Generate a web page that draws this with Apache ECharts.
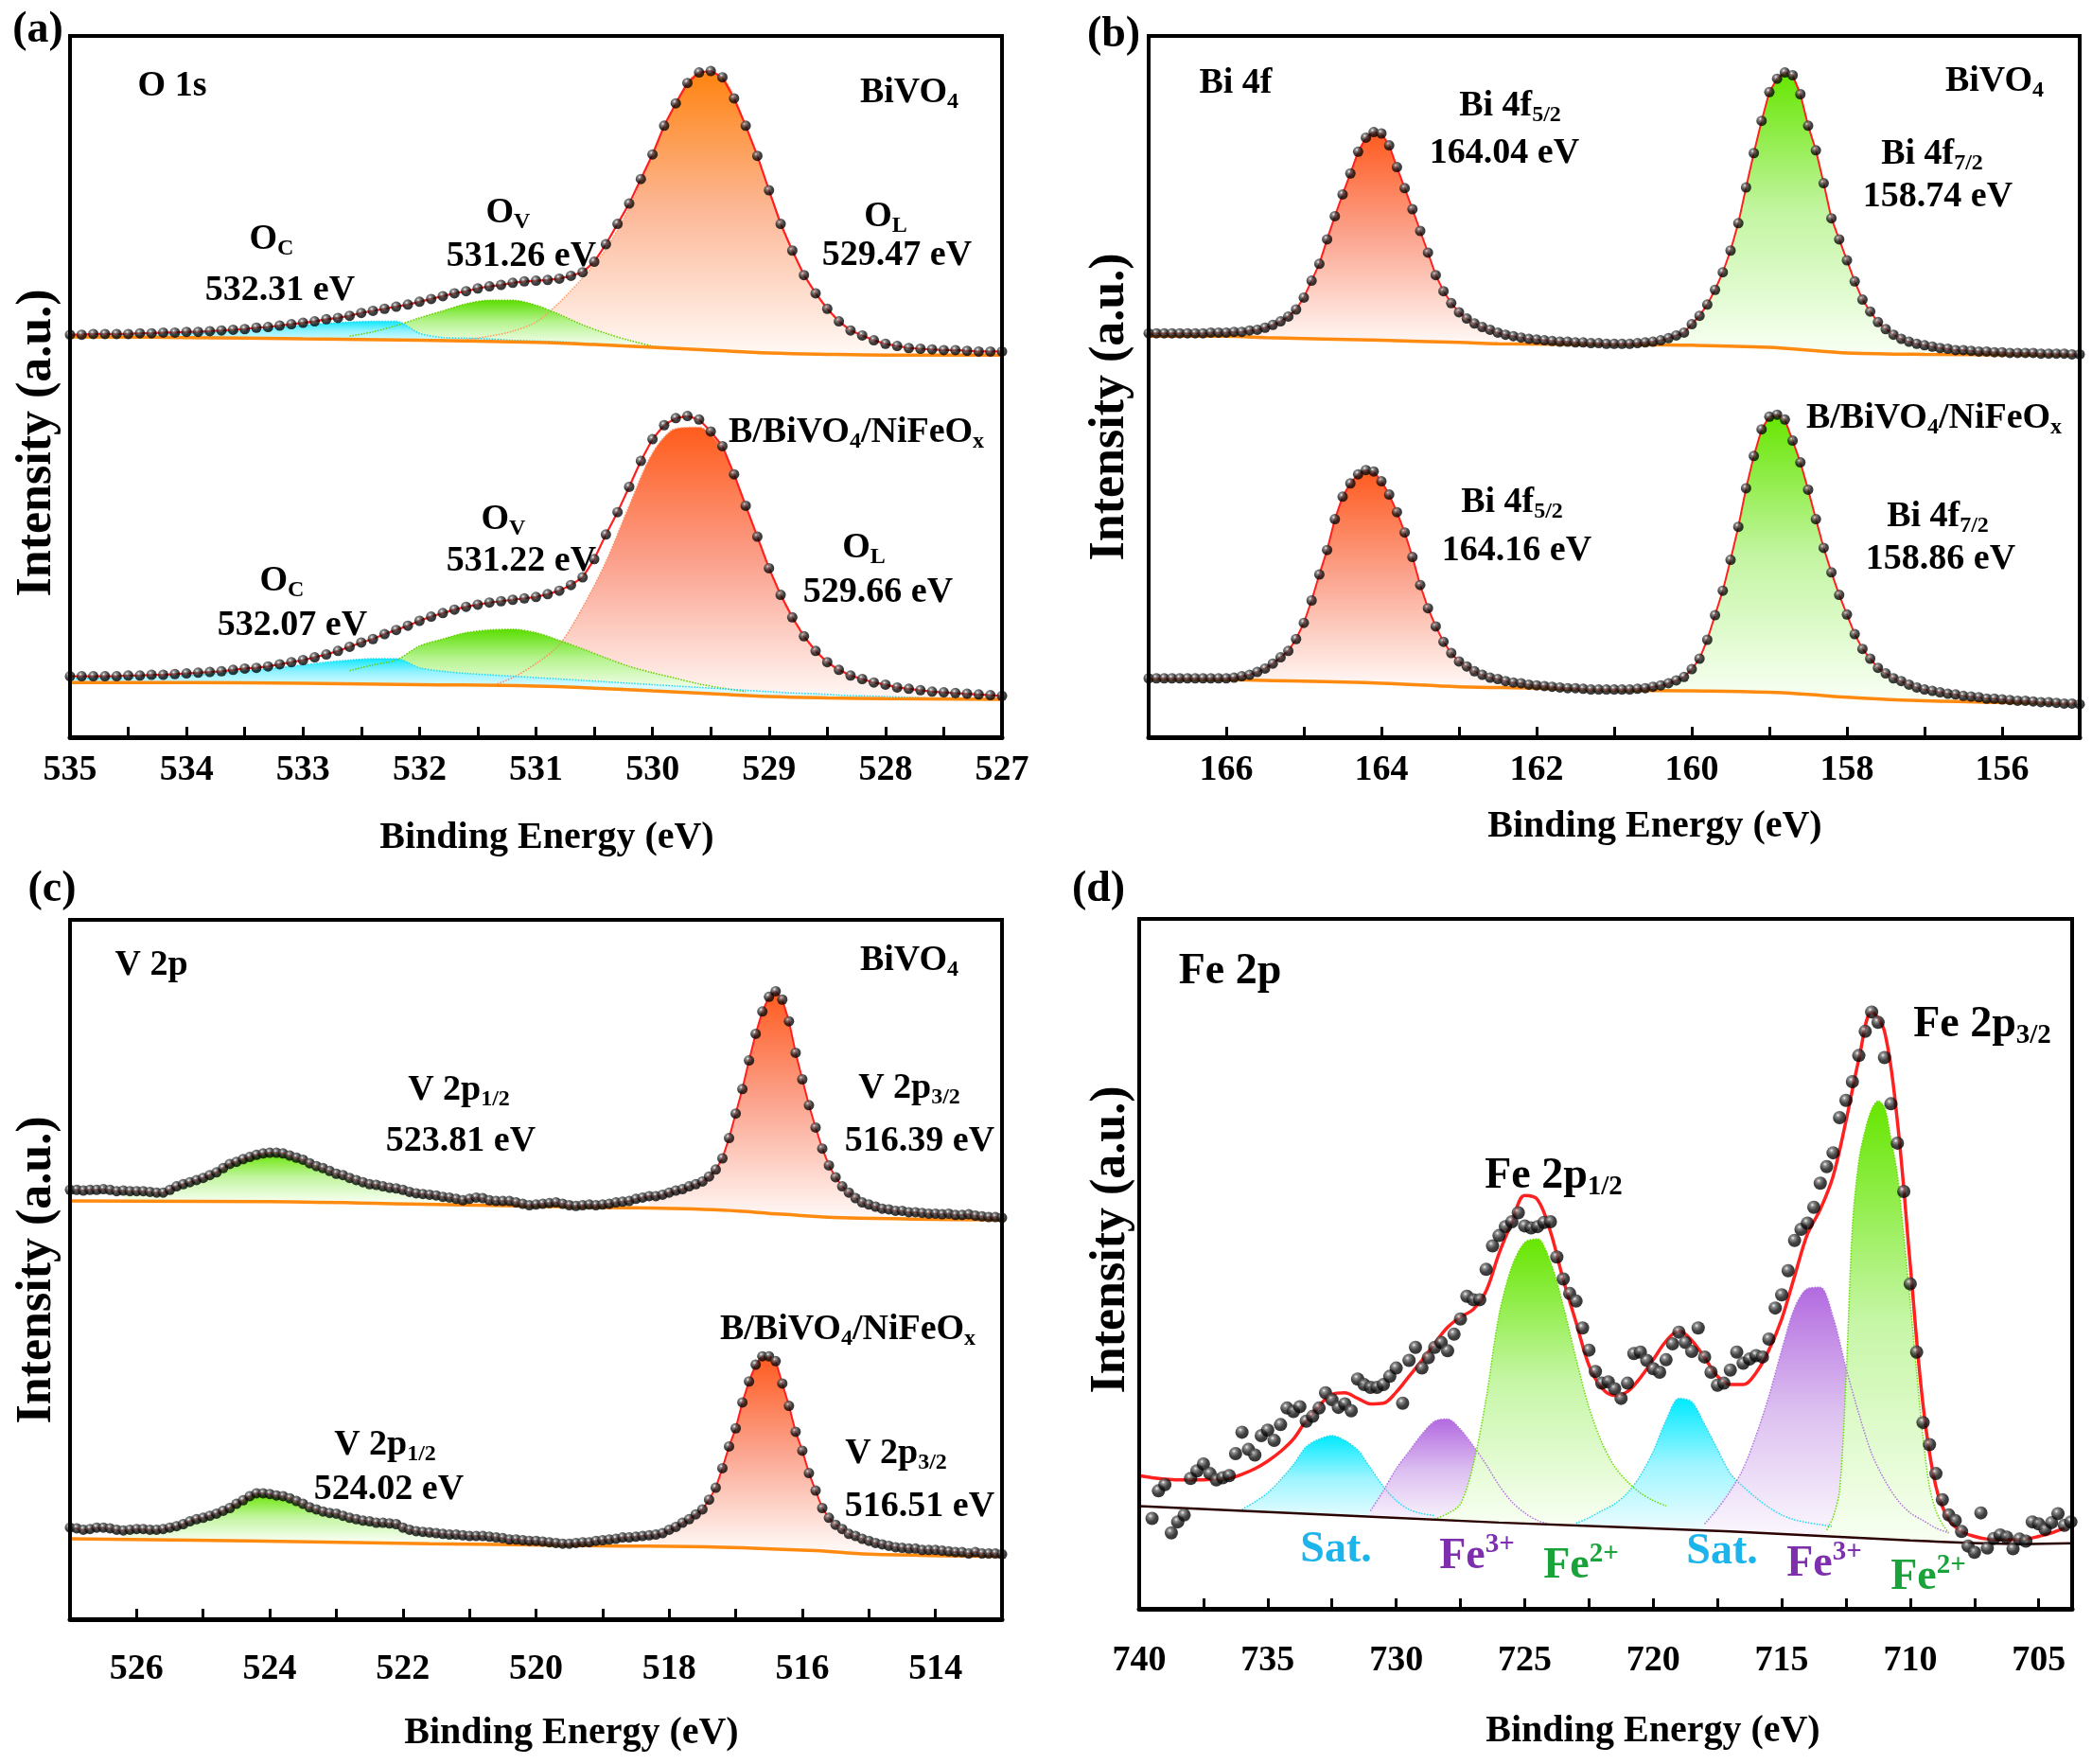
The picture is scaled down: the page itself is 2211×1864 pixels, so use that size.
<!DOCTYPE html>
<html lang="en">
<head>
<meta charset="UTF-8">
<title>XPS spectra</title>
<script src="https://cdn.jsdelivr.net/npm/echarts@6/dist/echarts.min.js"></script>
<style>
  html, body { margin: 0; padding: 0; background: #fff; }
  #chart { width: 2211px; height: 1864px; }
</style>
</head>
<body>
<div id="chart"></div>
<script>
// ---------- data (intensity in arbitrary units, 0-100 per panel) ----------

// (a) O 1s, sampled every 0.1 eV from 535.0 down to 527.0
var O1S_TOP = [57.4,57.4,57.5,57.5,57.5,57.5,57.6,57.6,57.7,57.7,
  57.8,57.8,57.9,58.0,58.1,58.2,58.4,58.5,58.7,58.9,
  59.1,59.3,59.6,59.8,60.1,60.5,60.8,61.1,61.4,61.7,
  62.1,62.5,62.9,63.3,63.6,64.0,64.3,64.5,64.8,65.0,
  65.1,65.2,65.4,65.8,66.3,67.8,70.3,73.2,76.1,79.6,
  83.1,87.2,90.4,93.3,94.8,95.0,94.1,91.1,87.2,82.9,
  78.0,73.2,69.4,65.9,63.3,61.1,59.3,58.0,57.3,56.6,
  56.1,55.8,55.5,55.4,55.3,55.2,55.2,55.1,55.0,55.0,55.0];
var O1S_BOT = [8.7,8.7,8.7,8.7,8.7,8.8,8.8,8.9,8.9,9.0,
  9.1,9.2,9.3,9.4,9.6,9.8,9.9,10.1,10.4,10.7,
  11.0,11.4,11.8,12.3,12.9,13.5,14.0,14.7,15.3,15.9,
  16.6,17.2,17.7,18.2,18.6,18.9,19.2,19.4,19.6,19.8,
  20.0,20.4,20.9,21.7,22.8,25.4,28.9,32.1,35.7,39.4,
  42.5,44.5,45.5,45.8,45.3,43.6,41.5,37.5,33.0,28.6,
  24.1,20.3,17.1,14.4,12.3,10.7,9.6,8.8,8.3,7.8,
  7.5,7.1,6.9,6.7,6.5,6.4,6.3,6.2,6.1,6.0,5.9];
var O1S_TOP_BG = [[535,57.1],[534,57.0],[533,56.8],[532,56.6],[531,56.3],[530.5,56.0],[530,55.6],[529.5,55.2],[529,54.8],[528.5,54.6],[528,54.5],[527,54.5]];
var O1S_BOT_BG = [[535,7.8],[534,7.8],[533,7.7],[532,7.5],[531,7.3],[530.5,7.0],[530,6.6],[529.5,6.2],[529,5.8],[528.5,5.6],[528,5.5],[527,5.4]];
// fitted components, every 0.2 eV from the given start energy
var O1S_TOP_OL = [56.6,56.6,56.7,57.2,57.9,59.2,62.0,65.5,69.6,75.5,83.0,90.2,94.7,94.1,87.2,78.0,69.4,63.3,59.3,57.3,56.1,55.5,55.3,55.2,55.0,55.0]; // from 532.0
var O1S_TOP_OV = [57.2,57.8,58.7,59.8,60.8,61.8,62.3,62.3,61.6,60.3,58.8,57.6,56.6,55.8,55.3]; // from 532.6
var O1S_TOP_OC = [57.2,57.2,57.3,57.4,57.5,57.6,57.7,57.9,58.1,58.4,58.7,59.0,59.2,59.3,59.3,57.6,57.0,56.9,56.8,56.6,56.5,56.4,56.2,56.0,55.8,55.6]; // from 535.0
var O1S_BOT_OL = [7.2,8.5,10.5,13.2,18.5,25.0,33.0,40.5,44.0,44.2,41.0,32.8,23.8,16.9,12.2,9.5,8.2,7.4,6.9,6.5,6.3,6.1,5.9]; // from 531.4
var O1S_BOT_OV = [9.5,10.3,11.0,13.0,14.0,14.9,15.3,15.4,14.9,13.8,12.6,11.3,10.1,9.2,8.4,7.6,7.0,6.5]; // from 532.6
var O1S_BOT_OC = [8.3,8.4,8.4,8.5,8.6,8.8,9.0,9.3,9.6,9.9,10.3,10.7,11.0,11.2,11.2,9.9,9.4,9.1,8.9,8.7,8.5,8.3,8.1,7.9,7.7,7.5,7.3,7.1,6.9,6.7,6.5,6.3,6.2,6.0,5.9,5.8,5.7,5.6,5.6,5.5,5.5]; // from 535.0

// (b) Bi 4f, every 0.1 eV from 167.0 down to 155.0
var BI_TOP = [57.6,57.6,57.6,57.6,57.6,57.6,57.6,57.6,57.7,57.7,
  57.7,57.8,57.8,58.0,58.1,58.4,58.8,59.3,60.0,61.0,
  62.7,65.1,67.5,71.0,74.3,77.4,80.4,83.5,85.5,86.3,
  86.1,84.4,81.3,78.3,75.3,72.2,69.1,65.9,63.6,61.9,
  60.6,59.7,59.0,58.5,58.1,57.7,57.4,57.2,57.0,56.8,
  56.7,56.6,56.5,56.4,56.4,56.3,56.3,56.2,56.2,56.1,
  56.1,56.1,56.1,56.2,56.3,56.4,56.6,56.9,57.3,57.7,
  58.9,60.1,61.7,63.8,66.3,69.4,73.3,78.4,83.3,87.9,
  92.0,93.9,94.8,94.4,91.7,87.2,83.7,79.0,74.0,71.0,
  68.0,65.0,62.4,60.7,59.2,58.2,57.4,56.8,56.4,56.1,
  55.9,55.7,55.5,55.4,55.2,55.2,55.1,55.0,55.0,54.9,
  54.9,54.8,54.8,54.8,54.8,54.7,54.7,54.7,54.7,54.6,54.6];
var BI_BOT = [8.4,8.4,8.4,8.4,8.4,8.4,8.4,8.4,8.4,8.4,
  8.4,8.5,8.7,8.9,9.3,9.8,10.5,11.4,12.3,14.0,
  16.3,19.5,23.2,26.7,31.1,34.3,36.2,37.5,38.1,37.9,
  36.5,34.6,32.1,29.2,25.7,21.7,18.4,15.8,13.6,12.0,
  10.8,10.1,9.4,8.9,8.5,8.3,8.0,7.8,7.7,7.5,
  7.4,7.3,7.2,7.1,7.0,7.0,6.9,6.8,6.8,6.8,
  6.8,6.8,6.8,6.9,7.0,7.2,7.4,7.7,8.1,8.6,
  9.7,11.2,13.9,17.4,20.9,25.3,30.0,35.5,40.1,43.9,
  45.7,46.0,45.3,42.3,39.2,35.3,31.1,27.0,23.5,20.3,
  17.5,14.7,12.6,11.2,9.9,9.1,8.4,8.0,7.5,7.1,
  6.8,6.6,6.4,6.2,6.1,5.9,5.8,5.7,5.5,5.5,
  5.4,5.3,5.2,5.2,5.1,5.0,5.0,4.9,4.8,4.8,4.7];
var BI_TOP_BG = [[167,57.2],[166,57.2],[165.5,57.0],[164,56.6],[163,56.3],[162.5,56.1],[161,56.0],[160,55.9],[159,55.6],[158.5,55.2],[158,54.8],[157,54.6],[155,54.5]];
var BI_BOT_BG = [[167,8.3],[166,8.2],[165.5,8.1],[164,7.7],[163,7.2],[162,7.0],[161,6.7],[160,6.6],[159,6.4],[158.5,6.1],[158,5.7],[157,5.2],[155,4.8]];

// (c) V 2p, every 0.1 eV from 527.0 down to 513.0
var V_TOP = [61.4,61.4,61.3,61.4,61.4,61.5,61.4,61.2,61.3,61.2,
  61.2,61.2,61.1,61.0,61.0,61.4,61.9,62.2,62.5,62.8,
  63.1,63.5,63.9,64.5,65.1,65.4,65.8,66.1,66.4,66.6,
  66.7,66.7,66.6,66.3,66.0,65.7,65.2,64.8,64.5,64.1,
  63.7,63.5,63.1,62.8,62.5,62.2,62.1,61.9,61.7,61.6,
  61.4,61.1,60.9,60.8,60.7,60.6,60.4,60.3,60.1,59.9,
  60.1,60.3,60.2,59.9,59.8,59.8,59.8,59.6,59.4,59.2,
  59.3,59.4,59.5,59.6,59.4,59.2,59.1,59.2,59.3,59.2,
  59.3,59.4,59.6,59.7,59.8,60.1,60.3,60.5,60.5,60.7,
  61.0,61.3,61.5,61.9,62.2,62.6,63.3,64.3,65.9,68.8,
  72.3,75.8,79.9,83.7,86.9,89.0,89.8,88.6,85.5,81.0,
  77.2,73.5,70.3,67.3,64.9,63.2,61.9,61.0,60.2,59.6,
  59.3,59.0,58.7,58.6,58.4,58.4,58.2,58.2,58.1,58.0,
  58.0,57.9,58.0,57.8,57.8,57.9,57.7,57.6,57.5,57.5,57.4];
var V_BOT = [13.1,13.0,12.8,12.9,13.1,13.1,13.0,12.8,12.7,12.8,
  12.9,12.9,12.8,12.8,12.9,13.1,13.3,13.6,14.0,14.3,
  14.5,14.8,15.1,15.5,15.9,16.5,17.0,17.6,18.0,18.0,
  17.9,17.7,17.6,17.3,16.9,16.5,16.0,15.7,15.4,15.2,
  15.1,14.8,14.5,14.3,14.1,14.0,13.8,13.8,13.7,13.6,
  13.1,12.8,12.6,12.5,12.4,12.3,12.2,12.1,12.1,12.0,
  11.9,11.9,11.9,11.8,11.7,11.6,11.4,11.4,11.3,11.2,
  11.2,11.1,11.0,10.9,10.8,10.8,10.9,11.0,11.0,11.2,
  11.3,11.4,11.5,11.7,11.7,11.8,11.9,12.0,12.1,12.3,
  12.8,13.2,13.8,14.3,15.0,15.7,17.1,18.8,21.6,24.7,
  27.3,31.0,34.0,36.4,37.6,37.6,36.9,33.7,30.5,26.8,
  24.1,20.9,18.4,15.9,14.5,13.5,12.9,12.2,11.9,11.5,
  11.2,10.9,10.7,10.5,10.3,10.2,10.1,10.1,9.9,9.9,
  9.9,9.8,9.7,9.6,9.6,9.4,9.6,9.4,9.4,9.4,9.3];
var V_TOP_BG = [[527,59.8],[524,59.7],[521.5,59.3],[519,58.9],[517.2,58.5],[516.3,57.9],[515.4,57.4],[513,57.1]];
var V_BOT_BG = [[527,11.5],[524.3,11.2],[521.6,10.8],[519,10.5],[517.2,10.3],[515.8,9.8],[515,9.3],[513,9.0]];

// (d) Fe 2p: raw points every 0.25 eV from 739.5, fit every 0.5 eV from 740
var FE_DOTS = [13.1,17.1,18.0,11.0,12.6,13.6,18.9,20.0,21.0,19.6,
  18.7,19.0,19.3,22.5,25.6,23.1,22.3,25.1,25.9,24.4,
  26.7,29.1,28.6,29.3,27.2,27.9,29.1,31.3,30.3,29.2,
  29.7,28.7,33.3,32.5,32.1,32.1,32.5,33.7,34.9,29.8,
  36.0,37.9,34.9,36.4,37.9,38.6,37.4,39.8,42.0,45.3,
  44.8,44.8,49.2,52.6,54.1,55.4,56.1,57.4,55.5,55.2,
  55.4,56.0,56.1,51.0,47.8,45.7,44.6,40.7,37.5,34.4,
  32.7,32.9,31.9,30.5,32.7,37.0,37.2,36.0,34.8,34.3,
  36.1,38.4,40.1,38.6,37.3,40.7,36.5,34.3,32.4,32.7,
  34.6,37.2,35.6,36.2,36.7,36.5,39.1,43.6,45.5,49.0,
  53.4,55.0,55.9,58.2,61.7,64.1,66.1,71.2,73.7,76.4,
  80.2,83.7,86.5,85.0,79.9,73.2,67.5,60.5,47.1,37.2,
  27.0,23.8,19.6,15.8,13.6,12.8,11.2,9.1,8.2,13.9,
  8.8,10.2,10.7,10.4,8.7,10.1,9.8,12.6,12.3,11.5,
  12.5,13.8,12.1,12.6];
var FE_FIT = [19.3,19.0,18.8,18.7,18.7,18.7,18.8,18.9,19.5,20.3,
  21.4,22.8,24.6,27.3,29.4,31.1,31.3,30.5,29.7,29.8,
  31.4,33.7,36.0,38.5,40.8,42.3,43.4,46.1,51.5,56.0,
  59.9,59.3,54.7,47.7,41.5,35.3,32.0,30.9,31.5,33.5,
  36.1,38.8,40.3,38.9,36.4,33.7,32.5,32.5,34.2,37.5,
  42.0,48.2,54.3,57.9,62.7,70.7,79.6,86.5,83.7,70.7,
  49.9,29.5,17.7,12.9,11.2,10.5,10.1,10.0,10.0,10.1,
  10.5,11.0,11.7];
var FE_BG = [[740,14.9],[726,12.5],[717,11.2],[710,9.9],[705.7,9.4],[703.7,9.5]];
var FE_SAT1 = [14.4,15.5,16.8,18.7,20.9,23.5,24.6,25.1,24.4,23.0,20.4,17.7,15.7,14.4,13.8,13.5]; // from 736, 0.5 eV
var FE_FE3A = [14.2,17.1,20.3,22.8,25.3,27.2,27.5,26.0,23.6,20.9,17.9,15.5,13.9,12.8,12.2]; // from 731
var FE_FE2A = [13.0,13.8,15.2,20.9,30.5,42.6,49.6,53.1,53.6,50.3,43.9,36.2,29.2,24.1,20.6,18.4,16.8,15.7,14.9]; // from 728.5
var FE_SAT2 = [12.4,13.2,14.2,15.2,16.8,19.3,22.8,27.3,30.5,30.0,26.7,23.1,19.6,17.7,16.1,14.7,13.6,12.9,12.5,12.2,11.9]; // from 723
var FE_FE3B = [12.3,14.5,17.1,20.3,25.1,30.8,37.5,43.6,46.4,46.6,42.3,34.9,28.3,22.5,18.7,15.8,13.9,12.8,11.7,11.0]; // from 718
var FE_FE2B = [11.4,13.3,17.1,33.0,55.4,64.9,69.4,72.4,73.6,72.7,68.1,63.0,54.1,44.5,34.3,24.7,17.7,14.2,12.3,11.0]; // from 713.25, 0.25 eV

// ---------- helpers ----------
var FONT = 'Liberation Serif, "Times New Roman", serif';

function onGrid(e0, step, vals) {
  return vals.map(function (v, i) { return [Math.round((e0 + step * i) * 1000) / 1000, v]; });
}
function between(pts, lo, hi) {
  return pts.filter(function (p) { return p[0] >= lo - 1e-6 && p[0] <= hi + 1e-6; });
}

var grids = [], xAxes = [], yAxes = [], series = [];

function addGrid(box, xa, ya) {
  grids.push(box);
  var gi = grids.length - 1;
  xa.gridIndex = gi; ya.gridIndex = gi;
  xAxes.push(xa); yAxes.push(ya);
  return gi;
}

function frame(p) {
  var xa = {
    type: 'value', inverse: true, min: p.min, max: p.max, z: 30,
    axisLine: { show: true, onZero: false, lineStyle: { color: '#000', width: 5 } },
    axisTick: { show: true, inside: true, length: 11, lineStyle: { color: '#000', width: 3 } },
    axisLabel: { show: true, margin: p.margin, color: '#000', fontFamily: FONT, fontWeight: 'bold', fontSize: 38, formatter: p.fmt },
    splitLine: { show: false }
  };
  if (p.interval) xa.interval = p.interval;
  if (p.ticks) { xa.axisTick.customValues = p.ticks; xa.axisLabel.customValues = p.labels; }
  addGrid({ left: p.box.left, top: p.box.top, width: p.box.width, height: p.box.height,
            show: true, borderColor: '#000', borderWidth: 4, z: 30 },
          xa, { type: 'value', show: false, min: 0, max: 100 });
}

function subGrid(p, part) {
  var top = p.box.top, h = p.box.height, ymin = 0, ymax = 100;
  if (part === 'top') { h = h / 2; ymin = 50; }
  if (part === 'bot') { top = top + h / 2; h = h / 2; ymax = 50; }
  var gi = addGrid({ left: p.box.left, top: top, width: p.box.width, height: h },
    { type: 'value', inverse: true, min: p.min, max: p.max, show: false },
    { type: 'value', min: ymin, max: ymax, show: false });
  return { gi: gi, ymin: ymin };
}

function grad(c, ymin, bg) {
  var peak = -1e9, peakE = 0;
  c.data.forEach(function (p) { if (p[1] > peak) { peak = p[1]; peakE = p[0]; } });
  var base = bg.reduce(function (b, p) { return Math.abs(p[0] - peakE) < Math.abs(b[0] - peakE) ? p : b; })[1];
  var end = Math.max(0.05, Math.min(1, (peak - base) / (peak - ymin)));
  return new echarts.graphic.LinearGradient(0, 0, 0, 1, [
    { offset: 0, color: c.top },
    { offset: end * 0.5, color: c.mid },
    { offset: end, color: c.low || '#ffffff' },
    { offset: 1, color: '#ffffff' }
  ]);
}

var BALL = { type: 'radial', x: 0.38, y: 0.32, r: 0.68,
  colorStops: [{ offset: 0, color: '#f2f2f2' }, { offset: 0.22, color: '#707070' },
               { offset: 0.6, color: '#141414' }, { offset: 1, color: '#000' }] };

function spectrum(g, sp) {
  var gi = g.gi;
  sp.comps.forEach(function (c) {
    series.push({ type: 'line', xAxisIndex: gi, yAxisIndex: gi, data: c.data, smooth: 0.3, symbol: 'none', z: 2, silent: true,
      lineStyle: c.edge ? { color: c.edge, width: 1.5, type: 'dotted' } : { opacity: 0 },
      areaStyle: { origin: 'start', opacity: 1, color: grad(c, g.ymin, sp.bg) } });
  });
  // white below the background line hides the component tails
  series.push({ type: 'line', xAxisIndex: gi, yAxisIndex: gi, data: sp.bg, smooth: 0.4, symbol: 'none', z: 3, silent: true,
    lineStyle: { opacity: 0 }, areaStyle: { origin: 'start', color: '#ffffff', opacity: 1 } });
  series.push({ type: 'line', xAxisIndex: gi, yAxisIndex: gi, data: sp.bg, smooth: 0.4, symbol: 'none', z: 4, silent: true,
    lineStyle: { color: sp.bgColor, width: sp.bgWidth } });
  series.push({ type: 'line', xAxisIndex: gi, yAxisIndex: gi, data: sp.fit, smooth: sp.fitSmooth || 0, symbol: 'none', z: 5, silent: true,
    lineStyle: { color: '#ff2020', width: sp.fitWidth } });
  series.push({ type: 'scatter', xAxisIndex: gi, yAxisIndex: gi, data: sp.dots, symbolSize: sp.dot, z: 6, silent: true,
    itemStyle: { color: BALL } });
}

function isInt(v) { return Math.abs(v - Math.round(v)) < 1e-6; }
function evenOnly(v) { return isInt(v) && Math.round(v) % 2 === 0 ? String(Math.round(v)) : ''; }

var PA = { box: { left: 74, top: 38, width: 985, height: 741 }, min: 527, max: 535, interval: 0.5, margin: 16,
  fmt: function (v) { return isInt(v) ? String(Math.round(v)) : ''; } };
var PB = { box: { left: 1214, top: 38, width: 984, height: 741 }, min: 155, max: 167, interval: 1, margin: 16, fmt: evenOnly };
var PC = { box: { left: 74, top: 972, width: 985, height: 739 }, min: 513, max: 527, interval: 1, margin: 34, fmt: evenOnly };
var PD = { box: { left: 1204, top: 971, width: 986, height: 729 }, min: 703.7, max: 740, margin: 36,
  ticks: [705, 707.5, 710, 712.5, 715, 717.5, 720, 722.5, 725, 727.5, 730, 732.5, 735, 737.5, 740],
  labels: [705, 710, 715, 720, 725, 730, 735, 740],
  fmt: function (v) { return String(v); } };

[PA, PB, PC, PD].forEach(frame);

var ORANGE = '#ff8a10';
var CYAN = { top: '#10e8ff', mid: '#8ff2ff', low: '#d6fbff', edge: '#22d8f0' };
var GREEN = { top: '#5ade00', mid: '#b4f38c', low: '#eefde4', edge: '#66cc00' };
var REDOR = { top: '#ff5a1e', mid: '#fba48e', low: '#fff6f3' };
var GRN2 = { top: '#66e600', mid: '#c2f5a0', low: '#f6fff0' };
function comp(data, col) {
  return { data: data, top: col.top, mid: col.mid, low: col.low, edge: col.edge };
}

// (a)
var aTop = onGrid(535, -0.1, O1S_TOP), aBot = onGrid(535, -0.1, O1S_BOT);
spectrum(subGrid(PA, 'top'), { fit: aTop, dots: aTop, bg: O1S_TOP_BG, bgColor: ORANGE, bgWidth: 3.5, fitWidth: 2.2, dot: 11,
  comps: [
    comp(onGrid(532.0, -0.2, O1S_TOP_OL), { top: '#ff8412', mid: '#fcb898', low: '#fff7f2', edge: '#ff9a60' }),
    comp(onGrid(532.6, -0.2, O1S_TOP_OV), GREEN),
    comp(onGrid(535.0, -0.2, O1S_TOP_OC), CYAN)
  ] });
spectrum(subGrid(PA, 'bot'), { fit: aBot, dots: aBot, bg: O1S_BOT_BG, bgColor: ORANGE, bgWidth: 3.5, fitWidth: 2.2, dot: 11,
  comps: [
    comp(onGrid(531.4, -0.2, O1S_BOT_OL), { top: '#ff5c1c', mid: '#fba08c', low: '#fff5f2', edge: '#ff8a60' }),
    comp(onGrid(532.6, -0.2, O1S_BOT_OV), GREEN),
    comp(onGrid(535.0, -0.2, O1S_BOT_OC), CYAN)
  ] });

// (b)
var bTop = onGrid(167, -0.1, BI_TOP), bBot = onGrid(167, -0.1, BI_BOT);
spectrum(subGrid(PB, 'top'), { fit: bTop, dots: bTop, bg: BI_TOP_BG, bgColor: ORANGE, bgWidth: 3.5, fitWidth: 2, dot: 11,
  comps: [comp(between(bTop, 162.3, 166.0), REDOR), comp(between(bTop, 156.6, 160.7), GRN2)] });
spectrum(subGrid(PB, 'bot'), { fit: bBot, dots: bBot, bg: BI_BOT_BG, bgColor: ORANGE, bgWidth: 3.5, fitWidth: 2, dot: 11,
  comps: [comp(between(bBot, 162.3, 166.0), REDOR), comp(between(bBot, 156.6, 160.7), GRN2)] });

// (c)
var cTop = onGrid(527, -0.1, V_TOP), cBot = onGrid(527, -0.1, V_BOT);
spectrum(subGrid(PC, 'top'), { fit: cTop, dots: cTop, bg: V_TOP_BG, bgColor: ORANGE, bgWidth: 3.5, fitWidth: 2, dot: 11,
  comps: [comp(between(cTop, 521.0, 526.2), GRN2), comp(between(cTop, 514.8, 518.3), REDOR)] });
spectrum(subGrid(PC, 'bot'), { fit: cBot, dots: cBot, bg: V_BOT_BG, bgColor: ORANGE, bgWidth: 3.5, fitWidth: 2, dot: 11,
  comps: [comp(between(cBot, 521.2, 526.2), GRN2), comp(between(cBot, 514.9, 518.3), REDOR)] });

// (d)
var FCY = { top: '#00eaff', mid: '#9ff5ff', low: '#eefdff', edge: '#20d8f0' };
var FPU = { top: '#b36ae0', mid: '#dcbff0', low: '#faf5fd', edge: '#b070e0' };
var FGR = { top: '#66e600', mid: '#c6f6a6', low: '#f8fff2', edge: '#66dd00' };
spectrum(subGrid(PD, 'all'), {
  fit: onGrid(740, -0.5, FE_FIT), fitSmooth: 0.35, dots: onGrid(739.5, -0.25, FE_DOTS), bg: FE_BG,
  bgColor: '#2a0000', bgWidth: 2.5, fitWidth: 3.5, dot: 14,
  comps: [
    comp(onGrid(736, -0.5, FE_SAT1), FCY),
    comp(onGrid(731, -0.5, FE_FE3A), FPU),
    comp(onGrid(728.5, -0.5, FE_FE2A), FGR),
    comp(onGrid(723, -0.5, FE_SAT2), FCY),
    comp(onGrid(718, -0.5, FE_FE3B), FPU),
    comp(onGrid(713.25, -0.25, FE_FE2B), FGR)
  ] });

// ---------- text ----------
function rich(size, color) {
  var b = Math.round(size * 0.64);
  return {
    n: { fontFamily: FONT, fontWeight: 'bold', fill: color, fontSize: size, lineHeight: Math.round(size * 1.15) },
    b: { fontFamily: FONT, fontWeight: 'bold', fill: color, fontSize: b, lineHeight: Math.round(size * 0.5), verticalAlign: 'bottom' },
    p: { fontFamily: FONT, fontWeight: 'bold', fill: color, fontSize: b, lineHeight: Math.round(size * 0.5), verticalAlign: 'top' }
  };
}
function txt(x, y, s, size, color, rot) {
  color = color || '#000';
  return { type: 'text', x: x, y: y, rotation: rot || 0, z: 100, silent: true,
    style: { text: s, rich: rich(size, color), align: 'center', verticalAlign: 'middle',
             fontFamily: FONT, fontWeight: 'bold', fontSize: size, fill: color } };
}
var S = 38, BV = '{n|BiVO}{b|4}', BB = '{n|B/BiVO}{b|4}{n|/NiFeO}{b|x}';
var ROT = Math.PI / 2;
var SATC = '#1cb4ea', FE3C = '#7e2fae', FE2C = '#19a33a';
var texts = [
  txt(40, 32, '(a)', 46), txt(1177, 37, '(b)', 46), txt(55, 940, '(c)', 46), txt(1161, 940, '(d)', 46),
  txt(40, 468, 'Intensity (a.u.)', 52, '#000', ROT), txt(1174, 430, 'Intensity (a.u.)', 52, '#000', ROT),
  txt(40, 1342, 'Intensity (a.u.)', 52, '#000', ROT), txt(1175, 1310, 'Intensity (a.u.)', 52, '#000', ROT),
  txt(578, 886, 'Binding Energy (eV)', 40), txt(1749, 874, 'Binding Energy (eV)', 40),
  txt(604, 1832, 'Binding Energy (eV)', 40), txt(1747, 1830, 'Binding Energy (eV)', 40),
  // (a)
  txt(182, 91, '{n|O 1s}', S), txt(961, 98, BV, S),
  txt(287, 253, '{n|O}{b|C}', S), txt(296, 307, '{n|532.31 eV}', S),
  txt(537, 225, '{n|O}{b|V}', S), txt(551, 271, '{n|531.26 eV}', S),
  txt(936, 229, '{n|O}{b|L}', S), txt(948, 270, '{n|529.47 eV}', S),
  txt(905, 457, BB, S),
  txt(532, 549, '{n|O}{b|V}', S), txt(551, 593, '{n|531.22 eV}', S),
  txt(298, 614, '{n|O}{b|C}', S), txt(309, 661, '{n|532.07 eV}', S),
  txt(913, 579, '{n|O}{b|L}', S), txt(928, 626, '{n|529.66 eV}', S),
  // (b)
  txt(1306, 88, '{n|Bi 4f}', S), txt(2108, 86, BV, S),
  txt(1596, 112, '{n|Bi 4f}{b|5/2}', S), txt(1590, 162, '{n|164.04 eV}', S),
  txt(2042, 163, '{n|Bi 4f}{b|7/2}', S), txt(2048, 208, '{n|158.74 eV}', S),
  txt(2044, 442, BB, S),
  txt(1598, 531, '{n|Bi 4f}{b|5/2}', S), txt(1603, 582, '{n|164.16 eV}', S),
  txt(2048, 546, '{n|Bi 4f}{b|7/2}', S), txt(2051, 591, '{n|158.86 eV}', S),
  // (c)
  txt(160, 1020, '{n|V 2p}', S), txt(961, 1015, BV, S),
  txt(485, 1152, '{n|V 2p}{b|1/2}', S), txt(487, 1206, '{n|523.81 eV}', S),
  txt(961, 1150, '{n|V 2p}{b|3/2}', S), txt(972, 1206, '{n|516.39 eV}', S),
  txt(896, 1405, BB, S),
  txt(407, 1527, '{n|V 2p}{b|1/2}', S), txt(411, 1574, '{n|524.02 eV}', S),
  txt(947, 1536, '{n|V 2p}{b|3/2}', S), txt(972, 1592, '{n|516.51 eV}', S),
  // (d)
  txt(1300, 1027, '{n|Fe 2p}', 46), txt(2095, 1083, '{n|Fe 2p}{b|3/2}', 46), txt(1642, 1243, '{n|Fe 2p}{b|1/2}', 46),
  txt(1412, 1638, '{n|Sat.}', 46, SATC), txt(1561, 1645, '{n|Fe}{p|3+}', 46, FE3C), txt(1671, 1655, '{n|Fe}{p|2+}', 46, FE2C),
  txt(1820, 1640, '{n|Sat.}', 46, SATC), txt(1928, 1653, '{n|Fe}{p|3+}', 46, FE3C), txt(2038, 1667, '{n|Fe}{p|2+}', 46, FE2C)
];

var chart = echarts.init(document.getElementById('chart'));
chart.setOption({
  animation: false,
  backgroundColor: '#ffffff',
  grid: grids,
  xAxis: xAxes,
  yAxis: yAxes,
  series: series,
  graphic: texts
});
</script>
</body>
</html>
